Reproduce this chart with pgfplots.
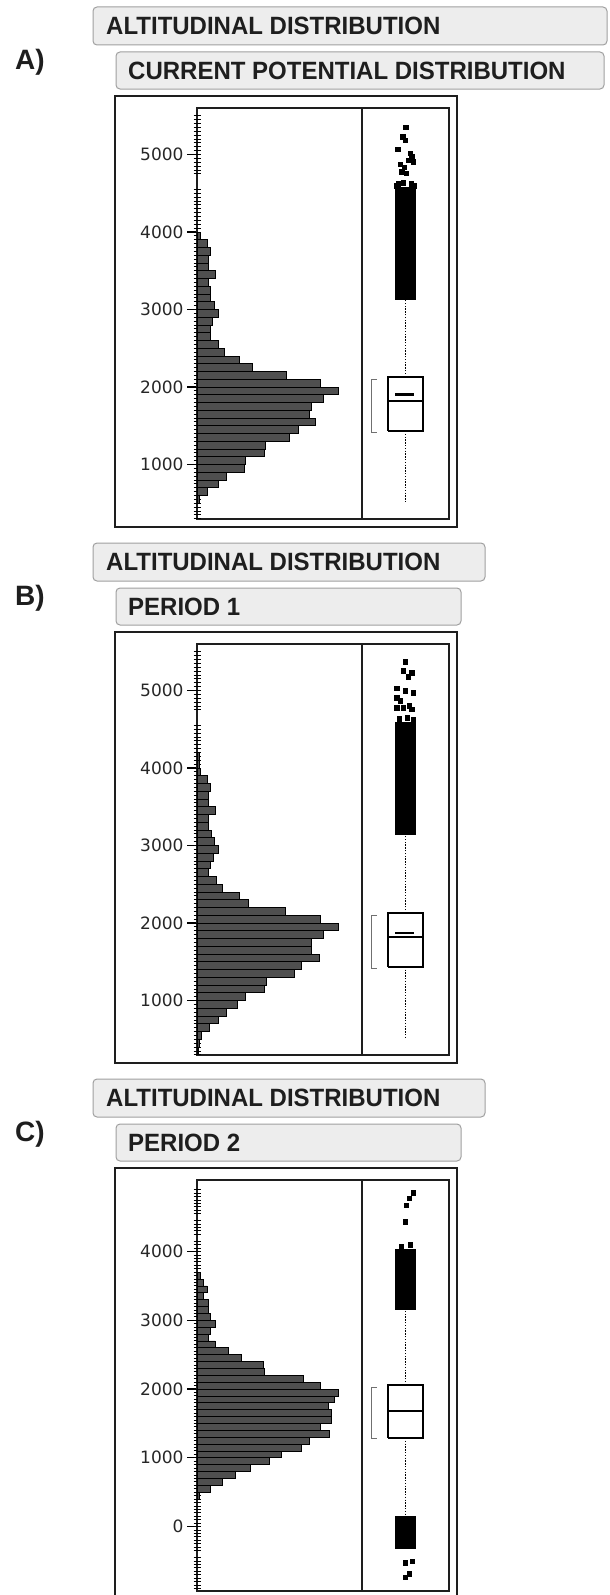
\documentclass[border=0pt]{standalone}
\usepackage{fontspec}
\setmainfont{Liberation Sans}
\newfontfamily\tickfam{DejaVu Sans}
\newfontfamily\hdrfam[FakeStretch=0.96]{Liberation Sans}
\usepackage{pgfplots}
\pgfplotsset{compat=1.18}

\definecolor{barfill}{HTML}{4F4F4F}
\definecolor{frame}{HTML}{1E1E1E}
\definecolor{hdrfill}{HTML}{EDEDED}
\definecolor{hdrdraw}{HTML}{A0A0A0}
\definecolor{bracket}{HTML}{707070}

\newcommand\tickfont{\tickfam\fontsize{17}{17}\selectfont}
\newcommand\hdrfont{\hdrfam\bfseries\fontsize{25}{25}\selectfont}
\newcommand\lblfont{\bfseries\fontsize{28}{28}\selectfont}

\pgfplotsset{
  panel/.style={
    anchor=north west, scale only axis, width=252pt, height=411pt,
    xmin=0, xmax=252, xtick=\empty, ytick pos=left,
    axis line style={line width=1.6pt, draw=frame},
    tick align=outside, major tick length=10pt,
    major tick style={line width=1.1pt, black},
    yticklabel style={font=\tickfont, text=black!85},
    /pgf/number format/assume math mode=true,
    /pgf/number format/1000 sep={},
    extra y tick labels={},
    extra y tick style={tick align=center, major tick length=7pt,
      major tick style={line width=0.8pt, black}},
  },
  bars/.style={xbar, bar width=100, bar shift=0pt, fill=barfill, draw=black, line width=0.7pt},
  box/.style={draw=black, line width=1.3pt},
  whisk/.style={black, line width=1.5pt, dash pattern=on 1.4pt off 1.4pt},
  outl/.style={only marks, mark=square*, mark size=2.3pt, black},
  brk/.style={bracket, line width=1pt},
  divider/.style={frame, line width=1.5pt},
}

\begin{document}
\begin{tikzpicture}

% ---------- headers, labels, outer frames ----------
\begin{scope}[x=1pt, y=-1pt]
  \draw[hdrdraw, fill=hdrfill, rounded corners=4pt, line width=1pt] (93,7) rectangle (607,45);
  \node[anchor=base west, inner sep=0, text=frame] at (106,34.5) {\hdrfont ALTITUDINAL DISTRIBUTION};
  \draw[hdrdraw, fill=hdrfill, rounded corners=4pt, line width=1pt] (116,52) rectangle (604,89);
  \node[anchor=base west, inner sep=0, text=frame] at (128,79.5) {\hdrfont CURRENT POTENTIAL DISTRIBUTION};
  \node[anchor=west, inner sep=0, text=frame] at (15,62) {\lblfont A)};
  \draw[frame, line width=1.8pt] (115,96) rectangle (457,527);

  \draw[hdrdraw, fill=hdrfill, rounded corners=4pt, line width=1pt] (93,543) rectangle (485,581);
  \node[anchor=base west, inner sep=0, text=frame] at (106,570.5) {\hdrfont ALTITUDINAL DISTRIBUTION};
  \draw[hdrdraw, fill=hdrfill, rounded corners=4pt, line width=1pt] (116,588) rectangle (461,625);
  \node[anchor=base west, inner sep=0, text=frame] at (128,615.5) {\hdrfont PERIOD 1};
  \node[anchor=west, inner sep=0, text=frame] at (15,598) {\lblfont B)};
  \draw[frame, line width=1.8pt] (115,632) rectangle (457,1063);

  \draw[hdrdraw, fill=hdrfill, rounded corners=4pt, line width=1pt] (93,1079) rectangle (485,1117);
  \node[anchor=base west, inner sep=0, text=frame] at (106,1106.5) {\hdrfont ALTITUDINAL DISTRIBUTION};
  \draw[hdrdraw, fill=hdrfill, rounded corners=4pt, line width=1pt] (116,1124) rectangle (461,1161);
  \node[anchor=base west, inner sep=0, text=frame] at (128,1151.5) {\hdrfont PERIOD 2};
  \node[anchor=west, inner sep=0, text=frame] at (15,1134) {\lblfont C)};
  \draw[frame, line width=1.8pt] (115,1168) rectangle (457,1599);
\end{scope}

% ---------- A) current potential distribution ----------
\begin{axis}[panel, at={(197pt,-108pt)}, ymin=297, ymax=5600,
  ytick={1000,2000,3000,4000,5000},
  extra y ticks={300,350,...,4550,4750,4800,...,5500}]
\addplot[bars] table {
w y
2 550
10 650
21 750
29 850
47 950
48 1050
67 1150
68 1250
92 1350
101 1450
118 1550
112 1650
114 1750
126 1850
141 1950
123 2050
89 2150
55 2250
42 2350
27 2450
21 2550
13 2650
13 2750
15 2850
21 2950
17 3050
13 3150
13 3250
11 3350
18 3450
11 3550
11 3650
13 3750
10 3850
3 3950
};
\addplot[divider] coordinates {(165,-2000) (165,9000)};
\addplot[box] coordinates {(191,1432) (226,1432) (226,2129) (191,2129) (191,1432)};
\addplot[box] coordinates {(191,1819) (226,1819)};
\addplot[black, line width=2.6pt] coordinates {(198,1906) (217,1906)};
\addplot[whisk] coordinates {(208.5,2129) (208.5,3122)};
\addplot[whisk] coordinates {(208.5,1432) (208.5,503)};
\addplot[brk] coordinates {(180,2103) (174,2103) (174,1419) (180,1419)};
\addplot[fill=black, draw=none] coordinates {(198,3125) (219,3125) (219,4580) (198,4580)};
\addplot[outl] coordinates {
(208.7,5351) (205.7,5230) (208,5187) (200.7,5067) (214.7,4971) (211.3,4929)
(216.3,4907) (203,4877) (207,4835) (204.7,4778) (209,4757) (213,5015)
(201,4620) (206,4640) (214,4625) (217,4600) (199,4595)};
\end{axis}

% ---------- B) period 1 ----------
\begin{axis}[panel, at={(197pt,-644pt)}, ymin=297, ymax=5600,
  ytick={1000,2000,3000,4000,5000},
  extra y ticks={300,350,...,4550,4750,4800,...,5500}]
\addplot[bars] table {
w y
1 350
2 450
4 550
12 650
21 750
29 850
40 950
48 1050
67 1150
69 1250
97 1350
104 1450
122 1550
114 1650
114 1750
126 1850
141 1950
123 2050
88 2150
51 2250
42 2350
25 2450
19 2550
11 2650
13 2750
16 2850
21 2950
17 3050
14 3150
11 3250
11 3350
18 3450
11 3550
11 3650
13 3750
10 3850
3 3950
2 4050
2 4150
};
\addplot[divider] coordinates {(165,-2000) (165,9000)};
\addplot[box] coordinates {(191,1434) (226,1434) (226,2129) (191,2129) (191,1434)};
\addplot[box] coordinates {(191,1820) (226,1820)};
\addplot[black, line width=2.6pt] coordinates {(198,1871) (217,1871)};
\addplot[whisk] coordinates {(208.5,2129) (208.5,3131)};
\addplot[whisk] coordinates {(208.5,1434) (208.5,496)};
\addplot[brk] coordinates {(180,2103) (174,2103) (174,1409) (180,1409)};
\addplot[fill=black, draw=none] coordinates {(198,3131) (219,3131) (219,4600) (198,4600)};
\addplot[outl] coordinates {
(208,5368) (206.3,5252) (214.7,5230) (211.3,5175) (199.7,5029) (208,4995)
(216.3,4973) (199.7,4908) (203,4866) (206.3,4780) (212.3,4802) (214.7,4760)
(199.7,4780) (202,4640) (210,4650) (216,4625)};
\end{axis}

% ---------- C) period 2 ----------
\begin{axis}[panel, at={(197pt,-1180pt)}, ymin=-938, ymax=5040,
  ytick={0,1000,2000,3000,4000},
  extra y ticks={-900,-850,...,-450,-350,-300,...,4150,4250,4300,...,4450,4550,4600,...,4900}]
\addplot[bars] table {
w y
2 450
13 550
25 650
38 750
53 850
72 950
84 1050
104 1150
112 1250
132 1350
123 1450
134 1550
134 1650
131 1750
137 1850
141 1950
123 2050
106 2150
67 2250
66 2350
44 2450
31 2550
18 2650
11 2750
13 2850
18 2950
13 3050
11 3150
11 3250
6 3350
10 3450
6 3550
3 3650
};
\addplot[divider] coordinates {(165,-2000) (165,9000)};
\addplot[box] coordinates {(191,1287) (226,1287) (226,2058) (191,2058) (191,1287)};
\addplot[black, line width=2.6pt] coordinates {(191,1680) (226,1680)};
\addplot[whisk] coordinates {(208.5,2058) (208.5,3145)};
\addplot[whisk] coordinates {(208.5,1287) (208.5,182)};
\addplot[brk] coordinates {(180,2029) (174,2029) (174,1287) (180,1287)};
\addplot[fill=black, draw=none] coordinates {(198,3145) (219,3145) (219,4040) (198,4040)};
\addplot[fill=black, draw=none] coordinates {(198,-330) (219,-330) (219,153) (198,153)};
\addplot[outl] coordinates {
(216.3,4855) (212.3,4774) (209,4676) (208,4434) (213,4095) (204,4070)
(208,-527) (215.3,-502) (212.3,-686) (208,-735)};
\end{axis}

\pgfresetboundingbox
\path[use as bounding box] (0,0) rectangle (610pt,-1595pt);
\end{tikzpicture}
\end{document}
